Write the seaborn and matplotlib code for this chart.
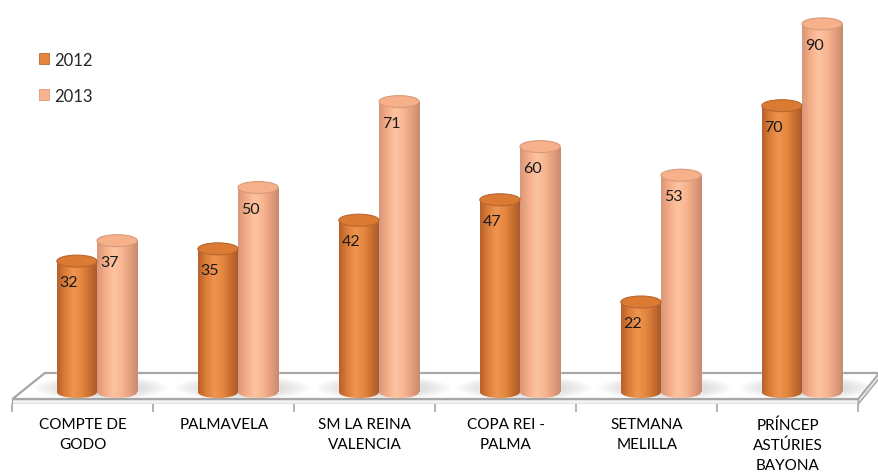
import numpy as np
import pandas as pd
import matplotlib
matplotlib.use("Agg")
import matplotlib.pyplot as plt
from matplotlib.patches import Ellipse, Polygon, Patch
from matplotlib.colors import LinearSegmentedColormap
import seaborn as sns

categories = ["COMPTE DE\nGODO", "PALMAVELA", "SM LA REINA\nVALENCIA",
              "COPA REI -\nPALMA", "SETMANA\nMELILLA", "PRÍNCEP\nASTÚRIES\nBAYONA"]
years = ["2012", "2013"]
values_2012 = [32, 35, 42, 47, 22, 70]
values_2013 = [37, 50, 71, 60, 53, 90]

df = pd.DataFrame({
    "cat": categories * 2,
    "year": [years[0]] * len(categories) + [years[1]] * len(categories),
    "value": values_2012 + values_2013,
})

sns.set_theme(style="white")
plt.rcParams["font.family"] = ["Lato", "DejaVu Sans"]

W, H = 879, 477
fig = plt.figure(figsize=(W / 100, H / 100), dpi=100)
ax = fig.add_axes([0, 72 / H, 1, 405 / H])

body = {"2012": "#E4863F", "2013": "#F8B48C"}
grad = {
    "2012": ["#B8602A", "#DD7E3A", "#EE9550", "#E58840", "#C86E30", "#A8582A"],
    "2013": ["#D9977A", "#F4AD86", "#FDC4A2", "#F8B792", "#E6A07E", "#C98A70"],
}
cap = {"2012": "#DA7A33", "2013": "#F6B08A"}
cap_edge = {"2012": "#B9662E", "2013": "#D99A7A"}

sns.barplot(data=df, x="cat", y="value", hue="year", order=categories,
            hue_order=years, palette=body, width=0.57, ax=ax, legend=False,
            saturation=1, zorder=3)

px_per_unit = 4.09
ax.set_xlim(-0.688, 5.546)
ax.set_ylim(-12 / px_per_unit, 393 / px_per_unit)

ell_h = 12 / px_per_unit

# floor
front_y, back_y, slab_y = -7 / px_per_unit, 19 / px_per_unit, -12 / px_per_unit
floor = Polygon([(-0.60, front_y), (5.40, front_y), (5.55, back_y), (-0.37, back_y)],
                closed=True, facecolor="white", edgecolor="#A6A6A6", lw=1.6, zorder=1)
ax.add_patch(floor)
slab = Polygon([(-0.60, front_y), (5.40, front_y), (5.40, slab_y), (-0.60, slab_y)],
               closed=True, facecolor="#F2F2F2", edgecolor="#A6A6A6", lw=1.0, zorder=1)
ax.add_patch(slab)
side = Polygon([(5.40, front_y), (5.55, back_y), (5.55, back_y - 5 / px_per_unit), (5.40, slab_y)],
               closed=True, facecolor="#E6E6E6", edgecolor="#A6A6A6", lw=1.0, zorder=1)
ax.add_patch(side)

n = len(categories)
# soft shadows around each group's base
for k in range(n):
    for s in np.linspace(1.0, 0.45, 10):
        sh = Ellipse((k + 0.03, 1.0), 0.95 * s, 24 / px_per_unit * s, facecolor="#808080",
                     edgecolor="none", alpha=0.035, zorder=1.5)
        ax.add_patch(sh)
        sh.set_clip_path(floor)

patches = ax.patches[:2 * n]
for i, p in enumerate(patches):
    yr = years[i // n]
    x0 = p.get_x()
    w = p.get_width()
    h = p.get_height()
    cx = x0 + w / 2
    cmap = LinearSegmentedColormap.from_list("g" + yr, grad[yr])
    img = ax.imshow(np.linspace(0, 1, 64)[None, :], cmap=cmap, aspect="auto",
                    extent=(x0, x0 + w, 0, h), zorder=3.2, interpolation="bicubic")
    img.set_clip_path(p)
    be2 = Ellipse((cx, 0), w, ell_h, facecolor="none", edgecolor="none", zorder=3.1)
    ax.add_patch(be2)
    bimg = ax.imshow(np.linspace(0, 1, 64)[None, :], cmap=cmap, aspect="auto",
                     extent=(x0, x0 + w, -ell_h / 2, 0), zorder=3.2, interpolation="bicubic")
    bimg.set_clip_path(be2)
    top = Ellipse((cx, h), w, ell_h, facecolor=cap[yr], edgecolor=cap_edge[yr],
                  lw=0.8, zorder=3.5)
    ax.add_patch(top)
    ax.text(cx - 0.057, h - 21 / px_per_unit, f"{int(round(h))}", ha="center", va="center",
            fontsize=11.5, color="#1a1a1a", zorder=4)

ax.set_xlabel("")
ax.set_ylabel("")
ax.set_yticks([])
for s in ax.spines.values():
    s.set_visible(False)
ax.set_xticks(np.arange(n) - 0.1)
ax.set_xticklabels(categories, fontsize=11, linespacing=1.52, va="top")
ax.set_xticks(np.arange(n + 1) - 0.6, minor=True)
ax.tick_params(axis="x", which="major", length=0, pad=9.5, colors="#000000")
ax.tick_params(axis="x", which="minor", length=5.5, width=1.2, color="#A6A6A6",
               direction="out", bottom=True)
ax.grid(False)

handles = [Patch(facecolor=body[y], edgecolor=cap_edge[y], lw=0.6) for y in years]
fig.legend(handles, years, loc="upper left", bbox_to_anchor=(32 / W, 1 - 46 / H),
           frameon=False, fontsize=12, handlelength=0.65, handleheight=0.65,
           handletextpad=0.3, labelspacing=1.2, borderaxespad=0)

fig.savefig("out.png", dpi=100)
